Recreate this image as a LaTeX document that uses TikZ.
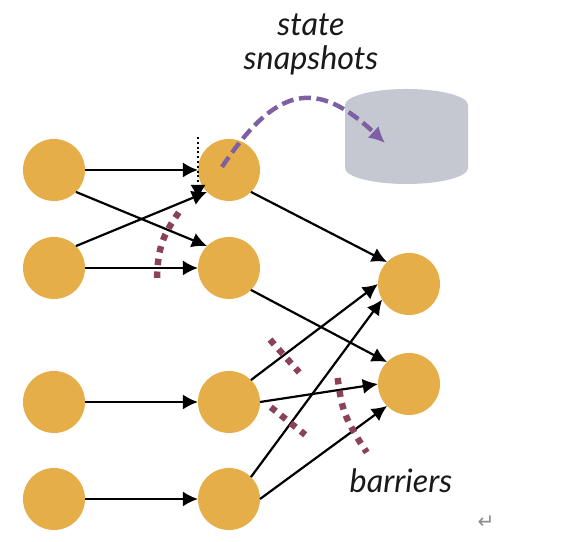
\documentclass[tikz,border=0pt]{standalone}
\usepackage{fontspec}
\setmainfont{Lato}
\newfontfamily\symfont{DejaVu Sans}
\usepackage{xcolor}
\usetikzlibrary{arrows.meta,positioning}
\definecolor{opc}{RGB}{229,174,72}
\definecolor{dbc}{RGB}{197,200,208}
\definecolor{barc}{RGB}{138,66,87}
\definecolor{snapc}{RGB}{126,95,163}

\begin{document}
\begin{tikzpicture}[
  op/.style={circle,fill=opc,minimum size=1.55cm,inner sep=0pt,outer sep=0pt},
  flow/.style={-{Latex[length=3.8mm,width=3.8mm]},line width=0.055cm},
  barrier/.style={barc,line width=0.16cm,dash pattern=on 0.16cm off 0.16cm},
  snap/.style={snapc,line width=0.11cm,dash pattern=on 0.3cm off 0.14cm,-{Latex[length=4mm,width=4mm]}},
  lab/.style={font=\fontsize{23}{24}\selectfont\itshape,align=center,text=black!90}]
\useasboundingbox (0,0) rectangle (14.125,13.55);
% --- sources ---
\node[op] (a1) at (1.35,9.3) {};
\node[op] (a2) at (1.35,6.85) {};
\node[op] (a3) at (1.35,3.5) {};
\node[op] (a4) at (1.35,1.075) {};
% --- middle operators ---
\node[op,right=2.825cm of a1] (b1) {};
\node[op,right=2.825cm of a2] (b2) {};
\node[op,right=2.825cm of a3] (b3) {};
\node[op,right=2.825cm of a4] (b4) {};
% --- sinks ---
\node[op] (c1) at (10.225,6.45) {};
\node[op] (c2) at (10.225,3.95) {};
% --- state store ---
\fill[dbc] (8.625,10.925) arc[start angle=180,end angle=0,x radius=1.5375,y radius=0.4]
  -- (11.7,9.35) arc[start angle=0,end angle=-180,x radius=1.5375,y radius=0.4] -- cycle;
% --- flows ---
\draw[flow] (a1) -- (b1);
\draw[flow] (a1.-45) -- (b2.135);
\draw[flow] (a2.45) -- (b1.-135);
\draw[flow] (a2) -- (b2);
\draw[flow] (a3) -- (b3);
\draw[flow] (a4) -- (b4);
\draw[flow] (b1.-45) -- (c1.135);
\draw[flow] (b2.-45) -- (c2.135);
\draw[flow] (b3.45) -- (c1.180);
\draw[flow] (b3.0) -- (c2.180);
\draw[flow] (b4.45) -- (c1.-150);
\draw[flow] (b4.0) -- (c2.-135);
% --- dotted tick above the first operator ---
\coordinate (tick) at (4.95,10.125);
\coordinate (tock) at (4.95,8.55);
\draw[-{Latex[length=3.8mm,width=3.8mm]},line width=0.05cm,dotted] (tick) -- (tock);
% --- barriers ---
\draw[barrier] (4.47,8.24) .. controls (4.1,7.7) and (3.925,7.4) .. (3.925,6.45);
\draw[barrier] (6.75,5.06) -- (7.48,4.24);
\draw[barrier] (6.77,3.37) -- (7.63,2.68);
\draw[barrier] (8.44,4.1) .. controls (8.55,3.3) and (8.6,3.1) .. (9.17,2.24);
% --- snapshot ---
\coordinate (snapfrom) at (5.55,9.375);
\coordinate (snapto) at (9.625,9.975);
\draw[snap] (snapfrom) .. controls (6.9,11.4) and (7.9,11.6) .. (snapto);
% --- labels ---
\node[lab] (snaplab) at (7.775,12.43) {state\\snapshots};
\node[lab] (barlab) at (10.025,1.525) {barriers};
\node[font=\symfont\Large,text=black!45] (ret) at (12.15,0.5) {↵};
\end{tikzpicture}
\end{document}
